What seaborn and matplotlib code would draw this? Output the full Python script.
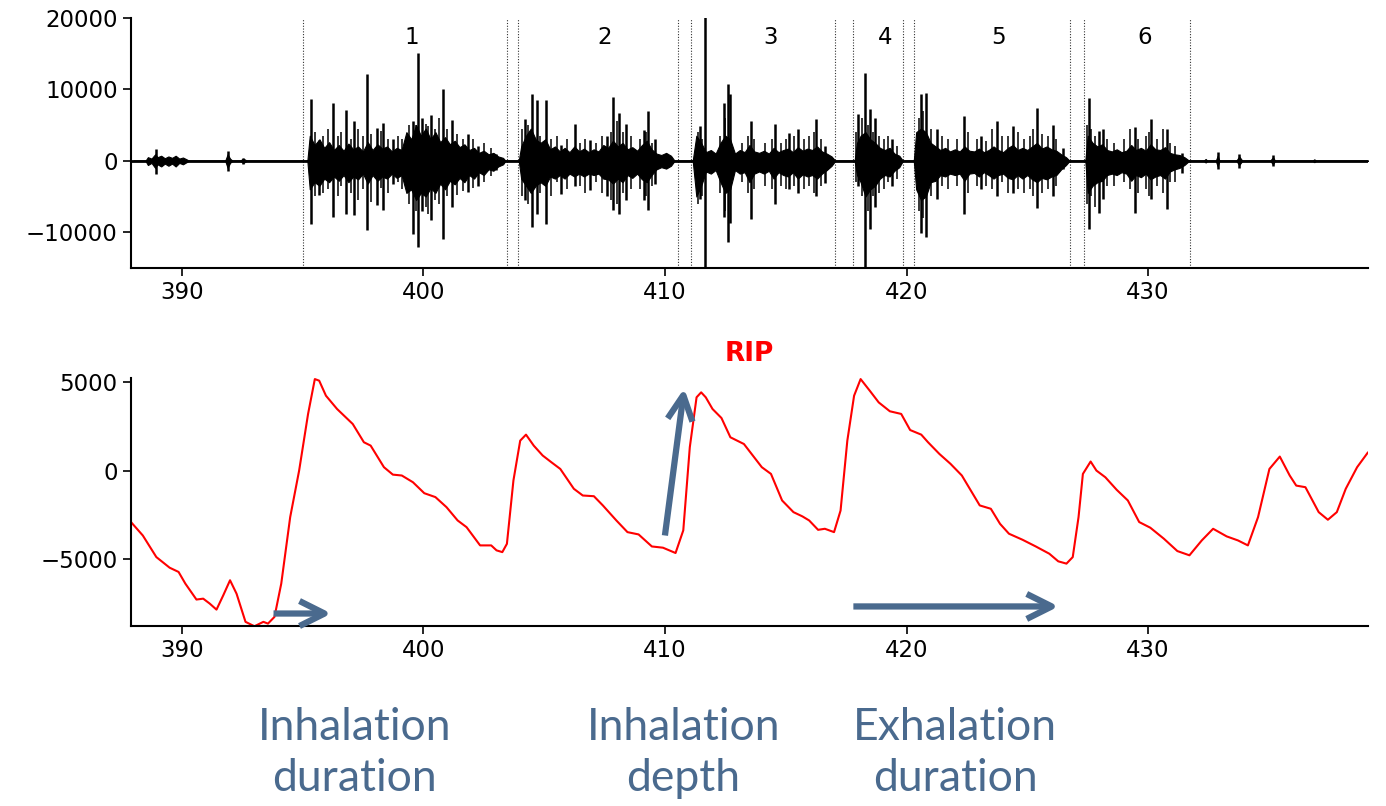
import matplotlib
matplotlib.use("Agg")
import matplotlib.pyplot as plt
import seaborn as sns

# ---- audio segments (dotted boundaries) and labels ----
seg_bounds = [395.0, 403.45, 403.9, 410.55, 411.1, 417.05, 417.8, 419.85,
              420.3, 426.75, 427.35, 431.75]
seg_starts = [395.0, 403.9, 411.1, 417.8, 420.3, 427.35]
seg_ends = [403.45, 410.55, 417.05, 419.85, 426.75, 431.75]
seg_labels = ["1", "2", "3", "4", "5", "6"]

# ---- audio envelope (body of the waveform) ----
env_t = [388.0, 388.5, 388.6, 388.75, 388.9, 389.0, 389.15, 389.3, 389.45, 389.6, 389.75,
         389.9, 390.05, 390.2, 390.3, 391.8, 391.9, 392.0, 392.1, 392.4, 392.55, 392.7,
         395.2, 395.3, 395.5, 395.7, 395.9, 396.1, 396.3, 396.5, 396.7, 396.9, 397.1, 397.3,
         397.5, 397.7, 397.9, 398.1, 398.3, 398.5, 398.7, 398.9, 399.1, 399.3, 399.5, 399.7,
         399.9, 400.1, 400.3, 400.5, 400.7, 400.9, 401.1, 401.3, 401.5, 401.7, 401.9, 402.1,
         402.3, 402.5, 402.7, 402.9, 403.1, 403.3, 403.4,
         403.95, 404.05, 404.25, 404.45, 404.65, 404.85, 405.05, 405.25, 405.45, 405.65,
         405.85, 406.05, 406.25, 406.45, 406.65, 406.85, 407.05, 407.25, 407.45, 407.65,
         407.85, 408.05, 408.25, 408.45, 408.65, 408.85, 409.05, 409.25, 409.45, 409.65,
         409.85, 410.05, 410.25, 410.4,
         411.15, 411.3, 411.5, 411.7, 411.9, 412.1, 412.3, 412.5, 412.7, 412.9, 413.1,
         413.3, 413.5, 413.7, 413.9, 414.1, 414.3, 414.5, 414.7, 414.9, 415.1, 415.3,
         415.5, 415.7, 415.9, 416.1, 416.3, 416.5, 416.7, 416.9, 417.05,
         417.85, 417.95, 418.1, 418.3, 418.5, 418.7, 418.9, 419.1, 419.3, 419.5, 419.7, 419.85,
         420.3, 420.4, 420.6, 420.8, 421.0, 421.2, 421.4, 421.6, 421.8, 422.0, 422.2,
         422.4, 422.6, 422.8, 423.0, 423.2, 423.4, 423.6, 423.8, 424.0, 424.2, 424.4,
         424.6, 424.8, 425.0, 425.2, 425.4, 425.6, 425.8, 426.0, 426.2, 426.4, 426.6, 426.75,
         427.4, 427.5, 427.7, 427.9, 428.1, 428.3, 428.5, 428.7, 428.9, 429.1, 429.3,
         429.5, 429.7, 429.9, 430.1, 430.3, 430.5, 430.7, 430.9, 431.1, 431.3, 431.5, 431.7,
         432.3, 432.38, 432.45, 432.8, 432.88, 432.95, 433.65, 433.77, 433.9,
         435.05, 435.17, 435.25, 436.8, 436.88, 436.95, 439.2]
env_up = [0, 0, 500, 300, 900, 500, 700, 350, 600, 400, 700,
          300, 450, 200, 0, 0, 900, 300, 0, 0, 300, 0,
          0, 3500, 2200, 3000, 1800, 2600, 1500, 2200, 1400, 2400, 1600, 2000,
          1300, 2600, 1500, 2300, 1700, 2000, 1300, 1800, 1500, 4000, 3000, 5000,
          3500, 4500, 3000, 4000, 2600, 3300, 2300, 2800, 1900, 2300, 1500, 1800,
          1100, 1400, 900, 1100, 600, 400, 0,
          0, 2000, 3500, 4500, 3000, 2500, 3000, 1600, 2000, 1300,
          1800, 1200, 2000, 1300, 1700, 1200, 1600, 1300, 2200, 1800,
          2800, 2000, 2500, 1600, 1900, 1400, 2200, 2800, 1600, 1000,
          800, 1100, 700, 0,
          0, 3500, 2500, 1200, 1500, 1000, 2500, 3500, 3000, 1000, 1500,
          1200, 2200, 1300, 1100, 1400, 1000, 1800, 1200, 1500, 1700, 1200,
          1900, 1400, 1700, 1500, 2000, 1300, 1000, 600, 0,
          0, 2500, 3500, 4000, 3000, 2500, 1800, 1500, 1800, 1000, 700, 0,
          0, 4000, 4500, 4000, 2500, 2000, 1500, 1800, 1300, 1600, 1300,
          2000, 1400, 1300, 1700, 1200, 1500, 2000, 1500, 1200, 1800, 2200,
          1500, 1800, 1500, 2000, 2500, 1700, 2000, 1600, 1400, 900, 500, 0,
          0, 3500, 2500, 2000, 2300, 1500, 1300, 1600, 1200, 1400, 2200,
          1500, 1800, 1400, 2300, 1600, 1500, 1900, 1100, 900, 800, 500, 0,
          0, 250, 0, 0, 700, 0, 0, 600, 0,
          0, 500, 0, 0, 200, 0, 0]
env_low = [0, 0, -600, -300, -1000, -500, -800, -400, -700, -400, -800,
           -300, -500, -200, 0, 0, -1000, -300, 0, 0, -300, 0,
           0, -4000, -3000, -3500, -2500, -3000, -2200, -2800, -2000, -3000, -2200, -2600,
           -1800, -3200, -2000, -2800, -2200, -2500, -1800, -2400, -2000, -4500, -4000, -5500,
           -4500, -5000, -3800, -4500, -3200, -4000, -2800, -3300, -2400, -3000, -2000, -2500,
           -1600, -2000, -1200, -1400, -800, -500, 0,
           0, -2500, -3500, -4500, -3500, -3000, -3500, -2200, -2500, -2000,
           -2500, -1800, -2200, -1800, -2200, -1800, -2000, -1800, -2500, -2600,
           -3200, -2500, -3000, -2000, -2400, -1800, -2600, -3000, -2000, -1200,
           -900, -1100, -700, 0,
           0, -5000, -3500, -1500, -1800, -1300, -3000, -4500, -4000, -1300, -1800,
           -1600, -3000, -1800, -1500, -1800, -1400, -2500, -1600, -2000, -2200, -1600,
           -2500, -1900, -2200, -2000, -2500, -1800, -1300, -700, 0,
           0, -2000, -3000, -5000, -4000, -3500, -2500, -2000, -2200, -1400, -900, 0,
           0, -4000, -5500, -5000, -3000, -2800, -2000, -2200, -1800, -2000, -1800,
           -2800, -1800, -1700, -2200, -1600, -2000, -2500, -2000, -1800, -2400, -2600,
           -2000, -2500, -2000, -2600, -3000, -2400, -2600, -2200, -2000, -1200, -600, 0,
           0, -4500, -3500, -3000, -2800, -2000, -1800, -2000, -1600, -1800, -2800,
           -2000, -2300, -1800, -2600, -2200, -2000, -2500, -1500, -1200, -1000, -600, 0,
           0, -250, 0, 0, -800, 0, 0, -600, 0,
           0, -500, 0, 0, -200, 0, 0]

# ---- large audio spikes: time, positive peak, negative peak ----
spike_t = [388.94, 391.9, 392.55,
           395.37, 395.7, 396.26, 396.78, 397.15, 397.67, 398.1, 398.33, 398.76,
           399.59, 399.78, 399.96, 400.33, 400.83, 401.17, 401.87, 402.28, 403.02,
           404.22, 404.5, 404.69, 405.09, 405.7, 406.26, 406.91, 407.61, 407.87,
           408.11, 408.39, 409.13, 409.31, 409.59, 410.05,
           411.45, 411.64, 412.43, 412.6, 412.71, 413.55, 414.57, 415.13, 415.5,
           416.25, 416.62,
           418.01, 418.29, 418.48, 418.7, 419.4,
           420.61, 420.8, 421.26, 422.38, 423.09, 423.74, 424.42, 425.41, 426.06, 426.47,
           427.55, 427.96, 428.14, 429.44, 430.13, 430.78, 431.39,
           432.88, 433.77, 435.17]
spike_up = [1700, 1400, 400,
            8600, 2900, 8100, 7100, 5500, 12200, 4600, 5300, 3100,
            5500, 15050, 6000, 6400, 10100, 5700, 3700, 2000, 900,
            5900, 9300, 8500, 8500, 2200, 5200, 2900, 3400, 8900,
            6700, 5200, 4300, 7000, 3100, 1000,
            4900, 21000, 8100, 10800, 9300, 5600, 5200, 3900, 4500,
            5800, 2100,
            6500, 12300, 7200, 6000, 3000,
            9300, 9500, 4400, 6300, 3500, 5600, 4900, 7400, 5000, 1800,
            8800, 4200, 4400, 4700, 5800, 4400, 1100,
            1200, 1000, 800]
spike_low = [-1800, -1400, -400,
             -8900, -4800, -7800, -7400, -7600, -9700, -6200, -6900, -3200,
             -10200, -12100, -7000, -8300, -10900, -6500, -4400, -3600, -1300,
             -5500, -9300, -7400, -8800, -4600, -3600, -4100, -5000, -6900,
             -7400, -5500, -5500, -6900, -3200, -1000,
             -5400, -16000, -7800, -11400, -8700, -8200, -6000, -4000, -4500,
             -5000, -3100,
             -3600, -16000, -9600, -6400, -3600,
             -10100, -10600, -5400, -7500, -4000, -5000, -4500, -6600, -5000, -1200,
             -9500, -7300, -5400, -7300, -5400, -6800, -1700,
             -1200, -1000, -800]

# ---- medium audio spikes ----
mid_t = [395.5, 395.85, 396.05, 396.45, 396.6, 397.0, 397.3, 397.5, 397.85, 398.25,
         398.55, 398.95, 399.1, 399.4, 399.7, 400.1, 400.2, 400.5, 400.65, 401.0,
         401.4, 401.65, 402.05, 402.5, 402.8,
         404.1, 404.35, 404.85, 405.3, 405.55, 405.95, 406.5, 406.7, 407.15, 407.4,
         407.75, 408.0, 408.25, 408.6, 408.95, 409.2, 409.45,
         411.35, 411.55, 412.3, 412.5, 413.2, 413.45, 413.7, 414.15, 414.45, 414.8,
         415.0, 415.35, 415.75, 415.95, 416.15, 416.45,
         417.9, 418.15, 418.4, 418.6, 418.85, 419.05, 419.25, 419.6,
         420.5, 420.7, 421.0, 421.45, 421.7, 422.1, 422.55, 422.9, 423.3, 423.55,
         423.95, 424.2, 424.6, 424.85, 425.1, 425.25, 425.6, 425.85, 426.2,
         427.45, 427.65, 427.8, 428.3, 428.6, 429.0, 429.25, 429.6, 429.9, 430.05,
         430.35, 430.6, 430.9, 431.1]
mid_up = [4000, 3500, 4500, 3500, 4000, 3000, 4500, 3500, 3800, 4200,
          3000, 3500, 3000, 5000, 5000, 5200, 4800, 4500, 6000, 4500,
          3800, 3000, 3000, 2500, 1800,
          4500, 5000, 3500, 3000, 3500, 3000, 2500, 3000, 2500, 3500,
          4000, 5500, 4000, 3500, 3000, 4000, 2500,
          4000, 3000, 3500, 6000, 2500, 3500, 3000, 2500, 3000, 2500,
          3000, 3500, 3000, 3500, 4000, 3000,
          4000, 6000, 5000, 4000, 3500, 3000, 3500, 2000,
          6000, 7000, 4500, 3500, 3000, 3000, 4000, 3000, 2800, 4500,
          3500, 3500, 4000, 3000, 3500, 4500, 3800, 3500, 3000,
          5000, 4500, 3500, 3000, 2500, 3000, 4500, 3000, 3500, 4000,
          3000, 4500, 2500, 2000]
mid_low = [-5000, -4500, -4000, -5000, -3500, -4500, -5500, -4000, -5800, -3800,
           -4500, -3000, -4000, -6000, -7000, -6500, -7500, -5500, -6000, -5000,
           -4800, -4200, -3800, -3000, -2200,
           -5000, -6000, -4500, -5000, -3000, -4000, -3500, -4500, -3000, -4500,
           -5500, -6000, -4500, -4000, -4000, -5000, -3500,
           -6000, -5000, -4500, -7000, -3000, -4500, -4000, -3500, -4000, -3500,
           -4000, -3500, -4000, -3500, -4500, -3500,
           -3000, -5000, -7000, -5000, -4500, -4000, -3000, -2500,
           -7000, -8000, -5000, -3500, -4000, -3500, -4500, -3500, -3500, -4000,
           -3000, -4500, -4000, -4500, -4000, -5000, -4500, -4000, -3500,
           -6000, -5000, -6500, -3500, -3500, -3000, -4000, -4500, -4000, -5000,
           -3500, -4500, -3000, -3000]

# ---- RIP signal ----
rip_t = [387.9, 388.39, 388.95, 389.5, 389.87, 390.15, 390.61, 390.89, 391.16, 391.44,
         391.72, 392.0, 392.27, 392.64, 393.01, 393.38, 393.57, 393.84, 394.12, 394.49,
         394.86, 395.23, 395.51, 395.69, 395.97, 396.43, 397.08, 397.54, 397.82, 398.37,
         398.74, 399.11, 399.57, 400.04, 400.5, 400.96, 401.42, 401.79, 402.35, 402.81,
         403.03, 403.27, 403.46, 403.73, 404.01, 404.25, 404.57, 404.94, 405.3, 405.67,
         406.23, 406.6, 407.06, 407.43, 407.99, 408.45, 408.91, 409.46, 409.92, 410.44,
         410.76, 411.03, 411.31, 411.5, 411.69, 411.97, 412.34, 412.71, 413.27, 413.64,
         414.01, 414.39, 414.85, 415.32, 415.69, 415.97, 416.34, 416.62, 417.0, 417.27,
         417.55, 417.83, 418.1, 418.48, 418.85, 419.31, 419.78, 420.15, 420.61, 420.89,
         421.36, 421.82, 422.29, 422.66, 423.03, 423.49, 423.87, 424.24, 424.8, 425.35,
         425.91, 426.28, 426.62, 426.88, 427.12, 427.3, 427.62, 427.86, 428.23, 428.7,
         429.16, 429.63, 430.09, 430.65, 431.21, 431.71, 432.22, 432.69, 433.25, 433.72,
         434.13, 434.55, 435.02, 435.45, 435.86, 436.13, 436.51, 437.06, 437.44, 437.81,
         438.18, 438.65, 439.1]
rip_v = [-2910, -3670, -4890, -5490, -5730, -6390, -7290, -7240, -7520, -7860,
         -7050, -6200, -6960, -8550, -8800, -8550, -8650, -8270, -6390, -2630,
         0, 3200, 5170, 5080, 4230, 3480, 2630, 1600, 1410, 190,
         -230, -280, -660, -1280, -1500, -2070, -2820, -3200, -4230, -4230,
         -4510, -4610, -4140, -560, 1690, 2030, 1410, 850, 470, 90,
         -1030, -1410, -1450, -1970, -2820, -3480, -3610, -4290, -4360, -4660,
         -3380, 1320, 4140, 4420, 4140, 3480, 2970, 1880, 1500, 850,
         190, -190, -1690, -2350, -2590, -2820, -3350, -3290, -3480, -2260,
         1690, 4230, 5170, 4510, 3850, 3350, 3200, 2290, 2030, 1600,
         940, 380, -280, -1130, -1970, -2160, -3010, -3570, -3910, -4290,
         -4700, -5130, -5260, -4890, -2630, -190, 510, 0, -380, -1090,
         -1690, -2910, -3230, -3850, -4550, -4790, -3950, -3290, -3720, -3950,
         -4230, -2630, 90, 790, -280, -850, -940, -2350, -2780, -2350,
         -1030, 190, 1030]

# ---- annotation arrows (start, end) in data units of the RIP axes ----
arrow_start = [(393.8, -8080), (410.0, -3670), (417.8, -7680)]
arrow_end = [(396.2, -8080), (410.8, 4650), (426.3, -7680)]
caption_x = [0.256, 0.493, 0.689]
captions = ["Inhalation\nduration", "Inhalation\ndepth", "Exhalation\nduration"]

sns.set_style("ticks", {"text.color": "black", "xtick.color": "black",
                        "ytick.color": "black", "axes.edgecolor": "black"})
plt.rcParams["font.family"] = ["DejaVu Sans"]
blue = "#4a6a8e"

fig = plt.figure(figsize=(13.86, 8.06), dpi=100)
ax1 = fig.add_axes([0.0945, 0.6675, 0.8925, 0.3105])
ax2 = fig.add_axes([0.0945, 0.223, 0.8925, 0.308])

# top: audio
ax1.axhline(0, color="black", lw=2, zorder=1)
ax1.fill_between(env_t, env_low, env_up, color="black", lw=0.8, zorder=2)
ax1.vlines(mid_t, mid_low, mid_up, color="black", lw=1.1, zorder=3)
ax1.vlines(spike_t, spike_low, spike_up, color="black", lw=1.8, zorder=3)
for b in seg_bounds:
    ax1.axvline(b, color="black", lw=0.8, ls=(0, (1, 1.5)), alpha=0.8, zorder=0)
for s, e, lab in zip(seg_starts, seg_ends, seg_labels):
    ax1.text((s + e) / 2, 16300, lab, fontsize=16.5, ha="left", va="baseline")
ax1.set_xlim(387.9, 439.1)
ax1.set_ylim(-15000, 20000)
ax1.set_yticks([-10000, 0, 10000, 20000])

# bottom: RIP
sns.lineplot(x=rip_t, y=rip_v, ax=ax2, color="red", lw=1.5, sort=False)
ax2.set_xlim(387.9, 439.1)
ax2.set_ylim(min(rip_v), max(rip_v) + 60)
ax2.set_yticks([-5000, 0, 5000])
ax2.set_title("RIP", color="red", fontweight="bold", fontsize=19, pad=12)

for (x0, y0), (x1, y1) in zip(arrow_start, arrow_end):
    ax2.annotate("", xy=(x1, y1), xytext=(x0, y0),
                 arrowprops=dict(arrowstyle="->,head_length=0.9,head_width=0.45",
                                 mutation_scale=20, color=blue, lw=4.5,
                                 shrinkA=0, shrinkB=0,
                                 capstyle="butt", joinstyle="round"))

for ax in (ax1, ax2):
    ax.set_xticks([390, 400, 410, 420, 430])
    ax.tick_params(labelsize=16.5, length=6, width=1.2)
    for sp in ax.spines.values():
        sp.set_linewidth(1.5)
    sns.despine(ax=ax)

for x, c in zip(caption_x, captions):
    fig.text(x, 0.066, c, ha="center", va="center", fontsize=32,
             family=["Lato", "DejaVu Sans"], color=blue, linespacing=1.3)

fig.savefig("out.png", dpi=100)
